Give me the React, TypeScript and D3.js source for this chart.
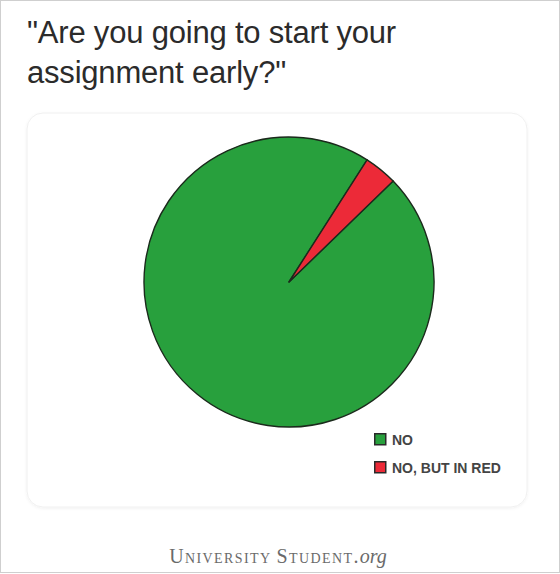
import { useEffect, useRef } from 'react';
import * as d3 from 'd3';

const categories = ['NO', 'NO, BUT IN RED'];
const values = [96.3, 3.7];
const colors = ['#28a03d', '#ec2a38'];
const titleLines = ['"Are you going to start your', 'assignment early?"'];

const width = 560;
const height = 574;

export default function App() {
  const svgRef = useRef<SVGSVGElement | null>(null);

  useEffect(() => {
    if (!svgRef.current) return;
    const svg = d3.select(svgRef.current);
    svg.selectAll('*').remove();

    svg.append('rect')
      .attr('x', 0.5).attr('y', 0.5)
      .attr('width', width - 1).attr('height', height - 2)
      .attr('fill', '#fff')
      .attr('stroke', '#cfcfcf');

    // title
    svg.append('g')
      .selectAll('text')
      .data(titleLines)
      .enter().append('text')
      .attr('x', 27)
      .attr('y', (d, i) => 43 + i * 40)
      .attr('font-family', '"Liberation Sans", Arial, sans-serif')
      .attr('font-size', 31)
      .attr('letter-spacing', -0.2)
      .attr('fill', '#2b2b2b')
      .text(d => d);

    // card
    const defs = svg.append('defs');
    const f = defs.append('filter').attr('id', 'sh').attr('x', '-5%').attr('y', '-5%').attr('width', '110%').attr('height', '110%');
    f.append('feDropShadow').attr('dx', 0).attr('dy', 1).attr('stdDeviation', 1.5).attr('flood-color', '#000').attr('flood-opacity', 0.06);

    svg.append('rect')
      .attr('x', 27).attr('y', 113)
      .attr('width', 500).attr('height', 394)
      .attr('rx', 16)
      .attr('fill', '#fff')
      .attr('stroke', '#f0f0f0')
      .attr('filter', 'url(#sh)');

    const cx = 289, cy = 282, r = 145;
    const startDeg = 45.9;
    const pie = d3.pie<number>()
      .sort(null)
      .startAngle(startDeg * Math.PI / 180)
      .endAngle((startDeg + 360) * Math.PI / 180);
    const arc = d3.arc<d3.PieArcDatum<number>>().innerRadius(0).outerRadius(r);

    const g = svg.append('g').attr('transform', `translate(${cx},${cy})`);
    g.selectAll('path')
      .data(pie(values))
      .enter().append('path')
      .attr('d', arc)
      .attr('fill', (d, i) => colors[i])
      .attr('stroke', '#1b2a1c')
      .attr('stroke-width', 1.4)
      .attr('stroke-linejoin', 'round');

    // legend
    const lg = svg.append('g').attr('transform', 'translate(374,433)');
    const item = lg.selectAll('g')
      .data(categories)
      .enter().append('g')
      .attr('transform', (d, i) => `translate(0,${i * 28})`);
    item.append('rect')
      .attr('x', 0.75).attr('y', 0.75)
      .attr('width', 11).attr('height', 11)
      .attr('fill', (d, i) => colors[i])
      .attr('stroke', '#2a2a2a')
      .attr('stroke-width', 1.5);
    item.append('text')
      .attr('x', 18)
      .attr('y', 12)
      .attr('font-family', '"Liberation Sans", Arial, sans-serif')
      .attr('font-size', 14)
      .attr('font-weight', 'bold')
      .attr('fill', '#444')
      .text(d => d);

    // footer
    const ft = svg.append('text')
      .attr('x', 278)
      .attr('y', 563)
      .attr('text-anchor', 'middle')
      .attr('font-family', '"Liberation Serif", "DejaVu Serif", serif')
      .attr('font-size', 20)
      .attr('fill', '#6a6a6a')
      .attr('letter-spacing', 1.4);
    ft.append('tspan').attr('font-variant', 'small-caps').text('University');
    ft.append('tspan').attr('dx', 5).attr('font-variant', 'small-caps').text('Student.');
    ft.append('tspan').attr('font-style', 'italic').attr('letter-spacing', 0).text('org');
  }, []);

  return (
    <svg
      ref={svgRef}
      width={width}
      height={height}
      style={{ position: 'absolute', left: 0, top: 0, display: 'block' }}
    />
  );
}
